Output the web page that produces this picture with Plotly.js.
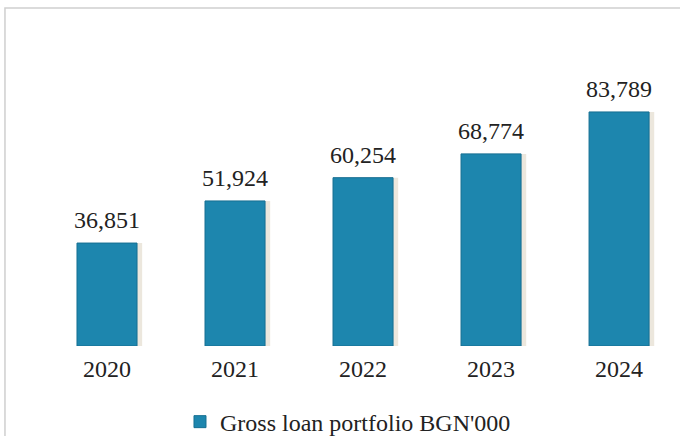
<!DOCTYPE html>
<html>
<head>
<meta charset="utf-8">
<script src="https://cdn.plot.ly/plotly-3.0.1.min.js"></script>
<style>html,body{margin:0;padding:0;background:#fff;}#chart{width:680px;height:436px;}</style>
</head>
<body>
<div id="chart"></div>
<script>
const years = ['2020', '2021', '2022', '2023', '2024'];
const grossLoanPortfolio = [36851, 51924, 60254, 68774, 83789];
const seriesName = "Gross loan portfolio BGN'000";

const barColor = '#1d86ae';
const barEdge = '#166f92';
const serif = '"Liberation Serif", "Times New Roman", serif';

const shadow = {
  type: 'bar', x: years, y: grossLoanPortfolio,
  width: 0.469, offset: -0.1945,
  marker: {color: 'rgba(180,160,120,0.25)', line: {width: 0}},
  showlegend: false, hoverinfo: 'skip'
};
const bars = {
  type: 'bar', x: years, y: grossLoanPortfolio, name: seriesName,
  width: 0.469, offset: -0.2345,
  marker: {color: barColor, line: {color: barEdge, width: 1}}
};

const valueLabels = years.map((yr, i) => ({
  x: i, y: grossLoanPortfolio[i], xref: 'x', yref: 'y',
  text: grossLoanPortfolio[i].toLocaleString('en-US'),
  showarrow: false, yanchor: 'bottom', xanchor: 'center', yshift: 8,
  font: {family: serif, size: 24, color: '#222'}
}));

const layout = {
  width: 680, height: 436,
  margin: {l: 43, r: 0, t: 20, b: 90, autoexpand: false},
  paper_bgcolor: '#ffffff', plot_bgcolor: '#ffffff',
  barmode: 'overlay',
  showlegend: true,
  xaxis: {
    type: 'category', range: [-0.5, 4.476], automargin: false,
    showgrid: false, zeroline: false, showline: false,
    ticks: 'outside', ticklen: 1, tickcolor: 'rgba(0,0,0,0)',
    tickfont: {family: serif, size: 24, color: '#222'}
  },
  yaxis: {
    range: [0, 116700], visible: false, showgrid: false, zeroline: false
  },
  legend: {
    orientation: 'h', xref: 'container', yref: 'container',
    x: 0.2647, xanchor: 'left', y: 0.032, yanchor: 'middle',
    font: {family: serif, size: 24, color: '#222'}, bgcolor: 'rgba(0,0,0,0)'
  },
  annotations: valueLabels,
  shapes: [{
    type: 'rect', xref: 'paper', yref: 'paper',
    x0: -0.0597, x1: 1.2, y0: -0.5, y1: 1.0368,
    line: {color: '#cfcfcf', width: 1.5}, fillcolor: 'rgba(0,0,0,0)', layer: 'below'
  }]
};

Plotly.newPlot('chart', [shadow, bars], layout, {staticPlot: true, displayModeBar: false});
</script>
</body>
</html>
